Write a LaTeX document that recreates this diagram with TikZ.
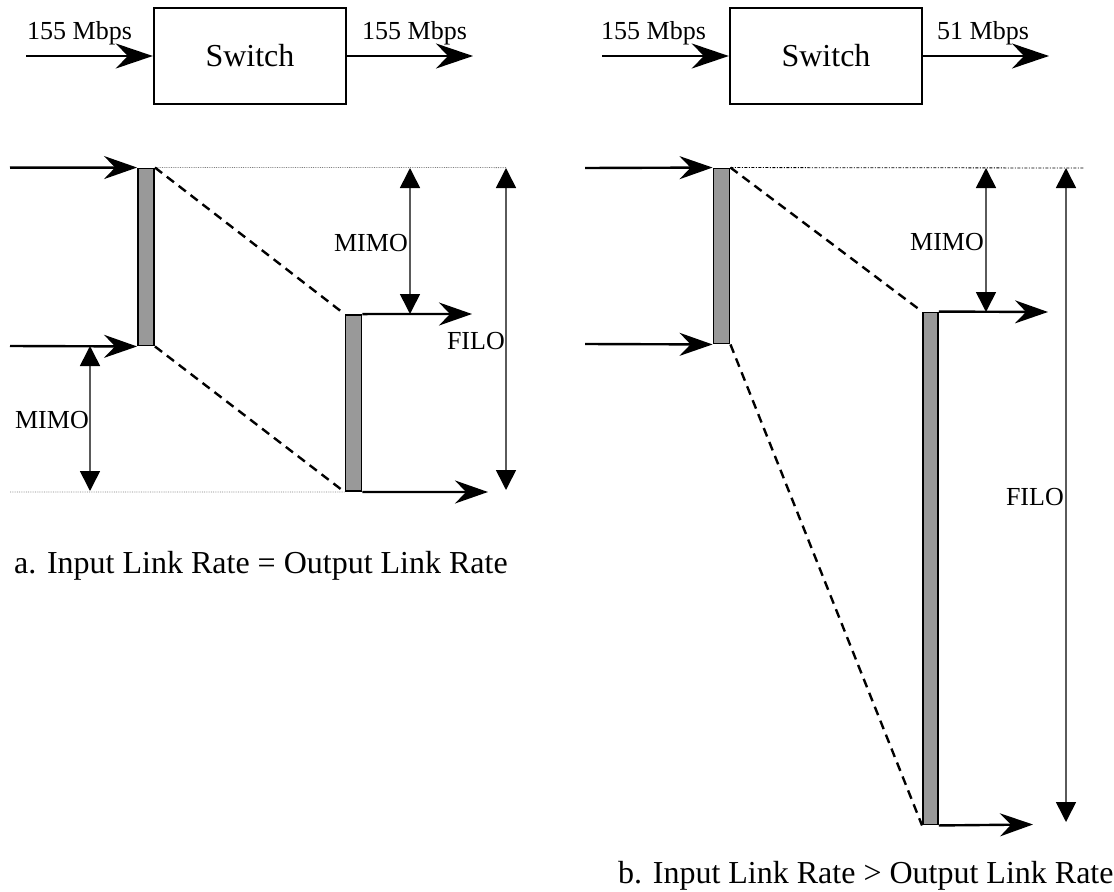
\documentclass[tikz,border=0pt]{standalone}
\usepackage{fontspec}
\setmainfont{Liberation Serif}
\usetikzlibrary{arrows.meta}
\definecolor{bufgray}{RGB}{153,153,153}
\definecolor{measgray}{RGB}{90,90,90}
\begin{document}
\begin{tikzpicture}[x=1bp,y=-1bp,
  flow/.style={line width=2.6bp,-{Stealth[length=37bp,width=25bp,inset=12bp]}},
  flowsm/.style={line width=2.4bp,-{Stealth[length=33bp,width=23bp,inset=11bp]}},
  measure/.style={draw=measgray,line width=1.6bp,{Triangle[length=20bp,width=20bp,black]}-{Triangle[length=20bp,width=20bp,black]}},
  buf/.style={draw=black,fill=bufgray,line width=1.9bp,inner sep=0pt},
  switchbox/.style={draw,line width=2.4bp,inner sep=0pt,minimum width=192bp,minimum height=96bp,font=\fontsize{32bp}{38bp}\selectfont},
  rate/.style={font=\fontsize{26bp}{30bp}\selectfont,inner sep=0pt,anchor=base west},
  lbl/.style={font=\fontsize{26bp}{30bp}\selectfont,inner sep=0pt,anchor=east},
  captext/.style={font=\fontsize{32bp}{36bp}\selectfont,inner sep=0pt,anchor=base west},
  guide/.style={draw=gray,line width=0.8bp,densely dotted},
  guidedd/.style={draw=black,line width=0.8bp,dash pattern=on 3bp off 1.5bp on 1bp off 1.5bp},
  slope/.style={line width=2.4bp,dash pattern=on 9bp off 6bp}
]
\useasboundingbox (0,0) rectangle (1114,892);

% ---------- panel a ----------
\node[switchbox] (swA) at (250,56) {Switch};
\coordinate (swAin) at (26,56);
\coordinate (swAout) at (473,56);
\draw[flow] (swAin) -- (swA.west);
\draw[flow] (swA.east) -- (swAout);
\node[rate] (rA1) at (27,39) {155 Mbps};
\node[rate] (rA2) at (362,39) {155 Mbps};

\node[buf,minimum width=16bp,minimum height=177bp] (bA1) at (146,257) {};
\node[buf,minimum width=16bp,minimum height=176bp] (bA2) at (353.5,403) {};

\coordinate (iA1) at (10,167.6);
\coordinate (iA2) at (10,346);
\coordinate (oA1) at (472,314);
\coordinate (oA2) at (488,492);
\coordinate (gA1) at (506,167.6);
\coordinate (gA2) at (10,492);

\draw[guide] (bA1.north east) -- (gA1);
\draw[guide] (gA2) -- (bA2.south west);
\draw[slope] (bA1.north east) -- (bA2.north west);
\draw[slope] (bA1.south east) -- (bA2.south west);
\draw[flowsm] (iA1) -- (bA1.north west);
\draw[flowsm] (iA2) -- (bA1.south west);
\draw[flowsm] (bA2.north east) -- (oA1);
\draw[flowsm] (bA2.south east) -- (oA2);

\coordinate (mA1t) at (410,168);
\coordinate (mA1b) at (410,314);
\coordinate (mA2t) at (90,346);
\coordinate (mA2b) at (90,491);
\coordinate (fAt) at (506,168);
\coordinate (fAb) at (506,490);
\draw[measure] (mA1t) -- (mA1b);
\draw[measure] (mA2t) -- (mA2b);
\draw[measure] (fAt) -- (fAb);
\node[lbl] (lA1) at (408,243) {MIMO};
\node[lbl] (lA2) at (89,420) {MIMO};
\node[lbl] (lA3) at (505,341) {FILO};

\node[captext] (capA) at (14,573) {a. Input Link Rate = Output Link Rate};

% ---------- panel b ----------
\node[switchbox] (swB) at (826,56) {Switch};
\coordinate (swBin) at (602,56);
\coordinate (swBout) at (1049,56);
\draw[flow] (swBin) -- (swB.west);
\draw[flow] (swB.east) -- (swBout);
\node[rate] (rB1) at (601,39) {155 Mbps};
\node[rate] (rB2) at (937,39) {51 Mbps};

\node[buf,minimum width=16bp,minimum height=175bp] (bB1) at (721.5,256) {};
\node[buf,minimum width=15bp,minimum height=512bp] (bB2) at (930.5,568.5) {};

\coordinate (iB1) at (585,168);
\coordinate (iB2) at (585,344);
\coordinate (oB1) at (1048,312);
\coordinate (oB2) at (1033,824.5);
\coordinate (gB1) at (1084,168);

\draw[guidedd] (bB1.north east) -- (gB1);
\draw[slope] (bB1.north east) -- (bB2.north west);
\draw[slope] (bB1.south east) -- (bB2.south west);
\draw[flowsm] (iB1) -- (bB1.north west);
\draw[flowsm] (iB2) -- (bB1.south west);
\draw[flowsm] (bB2.north east) -- (oB1);
\draw[flowsm] (bB2.south east) -- (oB2);

\coordinate (mBt) at (986,168);
\coordinate (mBb) at (986,312);
\coordinate (fBt) at (1066,168);
\coordinate (fBb) at (1066,822);
\draw[measure] (mBt) -- (mBb);
\draw[measure] (fBt) -- (fBb);
\node[lbl] (lB1) at (984,242) {MIMO};
\node[lbl] (lB2) at (1064,497) {FILO};

\node[captext] (capB) at (618,883) {b. Input Link Rate > Output Link Rate};
\end{tikzpicture}
\end{document}
